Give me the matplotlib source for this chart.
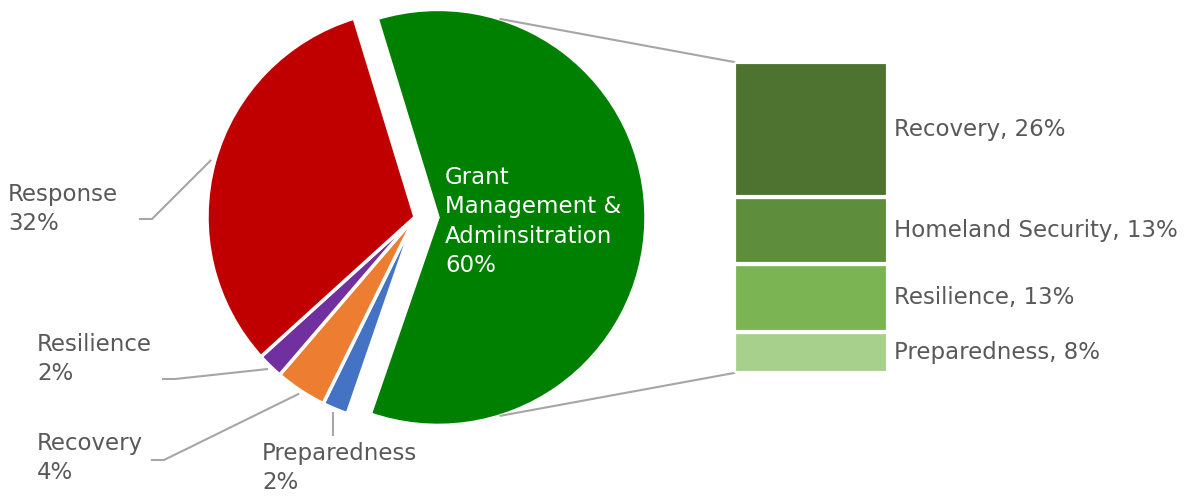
import numpy as np
import matplotlib
matplotlib.use('Agg')
import matplotlib.pyplot as plt

# pie data (clockwise from the exploded slice)
pie_labels = ['Grant Management & Adminsitration', 'Preparedness', 'Recovery', 'Resilience', 'Response']
pie_values = [60, 2, 4, 2, 32]
pie_colors = ['#008000', '#4472C4', '#ED7D31', '#7030A0', '#C00000']

# breakdown of the grant management slice (bottom to top)
bar_labels = ['Preparedness', 'Resilience', 'Homeland Security', 'Recovery']
bar_values = [8, 13, 13, 26]
bar_colors = ['#A8D08D', '#7BB553', '#5E8E3B', '#4E7230']

W, H = 1188, 496
txt_color = '#595959'
fs = 16.5
plt.rcParams['font.family'] = ['DejaVu Sans']

fig = plt.figure(figsize=(W / 100, H / 100), dpi=100)
ax = fig.add_axes([0, 0, 1, 1])

cx, cy, R = 415, 279, 208
wedges, _ = ax.pie(pie_values, colors=pie_colors, startangle=107, counterclock=False,
                   center=(cx, cy), radius=R, explode=[23, 0, 0, 0, 0],
                   wedgeprops=dict(edgecolor='white', linewidth=2.5), frame=True)
ax.set_xlim(0, W)
ax.set_ylim(0, H)
ax.set_aspect('equal')
ax.axis('off')

# label inside the big slice
gw = wedges[0]
ax.text(445, H - 166, 'Grant\nManagement &\nAdminsitration\n60%', color='white', fontsize=fs,
        ha='left', va='top', linespacing=1.36)

# outside labels with leader lines: (text x, text y top, elbow x, elbow y) in image pixels
label_layout = {
    'Response': (8, 183, 140, 219),
    'Resilience': (37, 333, 163, 379),
    'Recovery': (37, 432, 152, 460),
    'Preparedness': (262, 442, 342, 435),
}
lc = '#A6A6A6'
for w, lab, val in zip(wedges[1:], pie_labels[1:], pie_values[1:]):
    tx, ty, ex, ey = label_layout[lab]
    mid = np.deg2rad((w.theta1 + w.theta2) / 2)
    px = w.center[0] + w.r * 1.02 * np.cos(mid)
    py = w.center[1] + w.r * 1.02 * np.sin(mid)
    if lab == 'Preparedness':
        ax.plot([px, px], [py, H - ey], color=lc, lw=1.5)
    else:
        ax.plot([px, ex + 12, ex], [py, H - ey, H - ey], color=lc, lw=1.5)
    ax.text(tx, H - ty, f'{lab}\n{val}%', color=txt_color, fontsize=fs, ha='left', va='top',
            linespacing=1.36)

# stacked bar
bx0, by0, bw, bh = 734, 123, 154, 311
bax = fig.add_axes([bx0 / W, by0 / H, bw / W, bh / H])
bottoms = np.concatenate([[0], np.cumsum(bar_values)[:-1]])
bax.bar(0.5, bar_values, bottom=bottoms, width=1, color=bar_colors, edgecolor='white', linewidth=3)
bax.set_xlim(0, 1)
bax.set_ylim(0, sum(bar_values))
bax.axis('off')
for b, v, lab in zip(bottoms, bar_values, bar_labels):
    bax.text(1.04, b + v / 2, f'{lab}, {v}%', color=txt_color, fontsize=fs, ha='left', va='center',
             clip_on=False)

# connectors from the exploded slice to the bar
for ang, yb in [(72.5, by0 + bh), (-72.5, by0)]:
    a = np.deg2rad(ang)
    sx = gw.center[0] + gw.r * np.cos(a)
    sy = gw.center[1] + gw.r * np.sin(a)
    ax.plot([sx, bx0], [sy, yb], color=lc, lw=1.5)

fig.savefig('out.png', dpi=100)
